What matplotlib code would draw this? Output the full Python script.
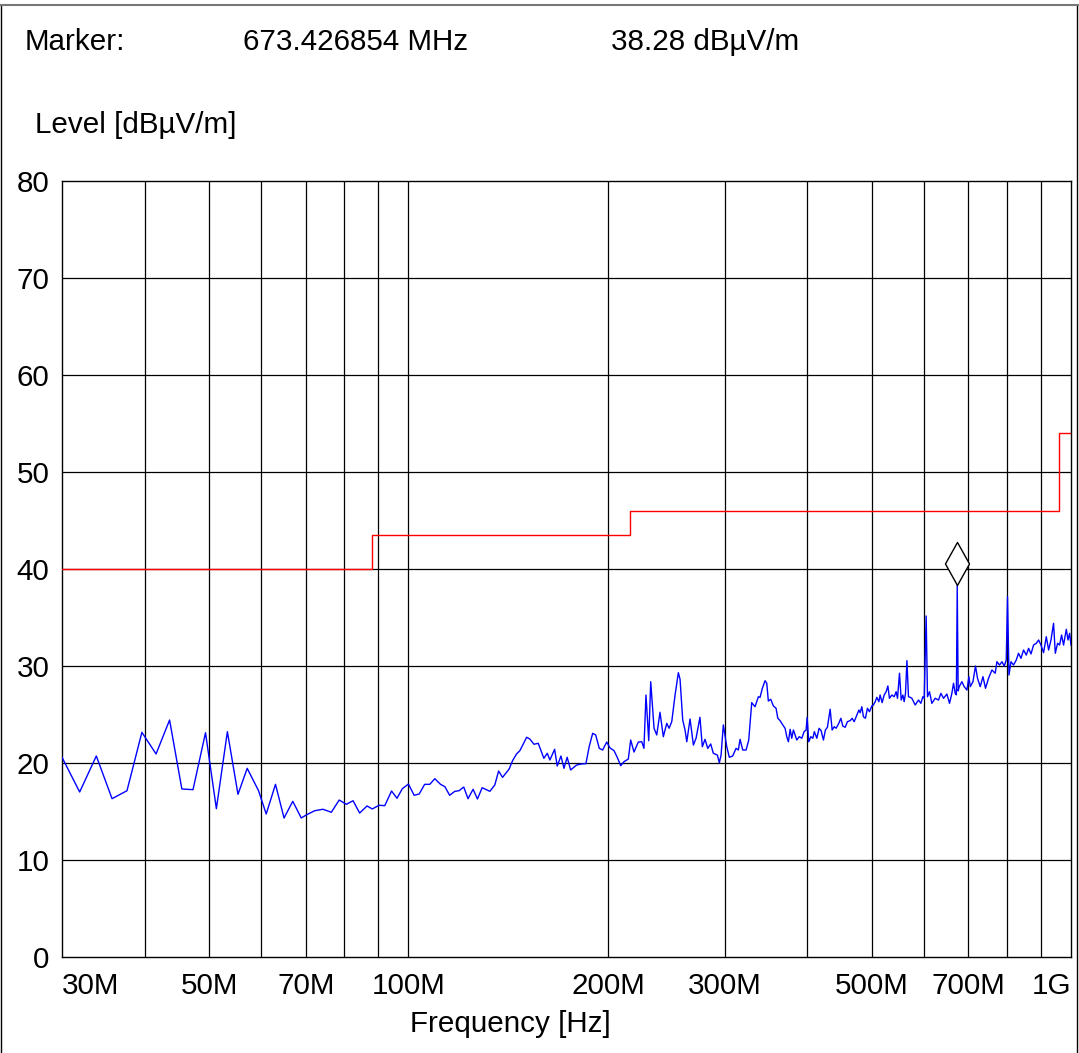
import matplotlib
matplotlib.use("Agg")
import matplotlib.pyplot as plt
from matplotlib.lines import Line2D
from matplotlib.path import Path
import numpy as np

# Measured field strength (MHz, dBuV/m)
freq_mhz = [
    30.0, 31.9, 33.8, 35.7, 37.6, 39.6, 41.6, 43.6, 45.5, 47.3,
    49.4, 51.3, 53.3, 55.3, 57.1, 59.4, 61.0, 63.0, 64.9, 66.9,
    68.9, 70.1, 72.2, 74.3, 76.5, 78.6, 80.6, 82.5, 84.4, 86.6,
    88.2, 90.3, 92.1, 94.3, 96.1, 97.9, 100.0, 102.0, 103.8, 105.8,
    107.7, 109.6, 111.8, 113.5, 115.4, 117.5, 119.2, 121.2, 123.0, 125.2,
    127.1, 129.2, 132.7, 135.0, 136.8, 138.7, 141.9, 143.6, 145.6, 147.3,
    150.8, 152.5, 154.7, 157.0, 160.1, 162.0, 163.5, 166.2, 167.7, 169.9,
    171.7, 173.6, 175.7, 179.4, 182.5, 185.3, 187.4, 189.7, 191.7, 194.1,
    196.4, 199.2, 201.5, 204.3, 206.6, 209.1, 211.5, 214.7, 216.5, 219.0,
    222.3, 225.0, 226.7, 228.3, 230.5, 232.1, 234.8, 237.0, 239.7, 242.5,
    245.4, 247.4, 249.7, 252.6, 255.5, 257.0, 259.4, 261.5, 263.1, 266.1,
    269.2, 271.7, 275.4, 277.7, 280.3, 283.0, 285.9, 288.5, 292.6, 294.6,
    296.4, 298.7, 302.3, 305.0, 308.6, 312.2, 314.7, 316.6, 319.6, 323.3,
    326.3, 329.7, 333.5, 337.4, 339.4, 342.1, 345.3, 347.4, 349.3, 352.2,
    355.5, 358.8, 361.0, 363.9, 367.3, 370.2, 372.4, 374.5, 376.8, 378.9,
    381.1, 383.3, 385.6, 389.0, 392.4, 395.5, 398.3, 399.7, 402.0, 404.9,
    407.7, 409.9, 413.4, 416.7, 419.6, 423.0, 425.9, 428.9, 433.0, 436.0,
    439.1, 442.1, 446.2, 449.4, 452.5, 456.2, 459.8, 464.1, 467.4, 470.7,
    475.1, 478.5, 480.6, 483.4, 486.1, 489.5, 492.9, 496.4, 500.6, 503.3,
    506.4, 509.3, 512.9, 515.1, 518.8, 522.4, 526.0, 529.2, 532.1, 536.6,
    540.9, 544.6, 547.2, 551.0, 554.3, 557.5, 560.0, 562.6, 565.4, 568.5,
    571.8, 575.2, 581.9, 588.6, 593.5, 597.6, 600.4, 604.5, 607.3, 611.5,
    616.6, 623.7, 631.0, 636.2, 642.1, 649.7, 655.6, 661.0, 664.8, 668.7,
    671.4, 673.43, 675.6, 678.1, 684.4, 689.9, 696.5, 701.3, 704.6, 711.2,
    717.6, 722.6, 729.5, 736.4, 743.0, 750.8, 759.8, 768.4, 773.0, 780.0,
    786.7, 793.0, 798.5, 802.0, 806.1, 811.7, 819.0, 826.8, 833.3, 840.4,
    848.0, 856.0, 863.0, 870.2, 878.0, 886.3, 893.5, 900.9, 909.1, 917.7,
    925.1, 932.8, 941.2, 946.9, 954.5, 961.1, 967.8, 974.5, 983.8, 989.7,
    995.2, 1000.0,
]
level_dbuv = [
    20.56, 16.98, 20.69, 16.29, 17.11, 23.13, 20.90, 24.40, 17.29, 17.22,
    23.09, 15.26, 23.20, 16.74, 19.42, 17.11, 14.71, 17.77, 14.30, 16.02,
    14.30, 14.61, 15.05, 15.20, 14.89, 16.15, 15.71, 16.08, 14.81, 15.54,
    15.23, 15.61, 15.57, 17.08, 16.33, 17.32, 17.80, 16.64, 16.77, 17.77,
    17.77, 18.35, 17.77, 17.53, 16.64, 17.05, 17.11, 17.49, 16.29, 17.26,
    16.26, 17.42, 17.05, 17.70, 19.14, 18.49, 19.35, 20.21, 20.90, 21.24,
    22.62, 22.44, 21.90, 22.00, 20.45, 20.97, 20.28, 21.38, 19.66, 20.69,
    19.42, 20.56, 19.25, 19.76, 19.87, 19.90, 21.65, 23.03, 22.86, 21.48,
    21.31, 22.13, 21.52, 21.24, 20.56, 19.69, 20.10, 20.38, 22.34, 21.10,
    22.13, 22.16, 21.48, 26.98, 22.27, 28.35, 23.55, 22.86, 25.20, 22.68,
    24.06, 23.55, 24.23, 26.98, 29.28, 28.60, 24.40, 23.37, 22.16, 24.51,
    21.82, 22.52, 24.68, 21.65, 22.41, 21.48, 21.93, 20.97, 20.79, 20.00,
    20.79, 23.89, 21.65, 20.56, 20.69, 21.48, 21.31, 22.41, 21.31, 21.31,
    22.34, 26.19, 25.77, 26.80, 26.74, 27.67, 28.45, 28.19, 26.36, 26.54,
    25.85, 25.61, 24.58, 24.33, 23.89, 23.55, 22.68, 22.16, 23.44, 22.52,
    23.37, 22.86, 22.34, 22.68, 22.52, 23.20, 23.37, 24.68, 22.16, 22.68,
    22.52, 23.20, 22.52, 23.55, 23.30, 22.34, 23.37, 23.65, 25.51, 23.37,
    23.71, 23.55, 24.06, 24.58, 23.78, 23.65, 24.23, 24.33, 24.58, 24.23,
    24.92, 25.43, 25.15, 25.77, 24.74, 24.58, 25.61, 25.26, 25.85, 25.95,
    26.29, 26.74, 26.29, 26.98, 26.19, 26.98, 27.32, 27.91, 26.64, 26.98,
    26.80, 27.32, 26.64, 29.22, 26.46, 26.98, 26.29, 27.15, 30.52, 26.80,
    26.74, 26.64, 25.95, 26.46, 26.12, 26.80, 26.64, 35.12, 26.80, 27.32,
    26.12, 26.64, 26.46, 27.15, 26.64, 27.08, 26.12, 27.15, 28.19, 27.15,
    27.00, 38.28, 27.40, 27.84, 28.35, 27.84, 27.49, 28.87, 27.84, 28.35,
    29.97, 28.70, 27.84, 28.87, 27.67, 28.70, 29.56, 29.22, 30.41, 30.07,
    30.41, 29.97, 30.59, 37.11, 29.04, 30.41, 30.07, 30.59, 31.28, 30.76,
    31.62, 31.10, 31.79, 31.21, 32.13, 32.31, 32.65, 32.13, 31.34, 32.99,
    31.62, 32.65, 34.37, 31.28, 32.31, 32.13, 33.16, 32.13, 33.75, 32.65,
    33.34, 32.13,
]

# Class B limit: band edges (MHz) and limit per band
limit_edges_mhz = [30, 88, 216, 960, 1000]
limit_dbuv = [40.0, 43.5, 46.0, 54.0]

marker_mhz = 673.426854
marker_dbuv = 38.28

grid_mhz = [40, 50, 60, 70, 80, 90, 100, 200, 300, 400, 500, 600, 700, 800, 900]
tick_mhz = [30, 50, 70, 100, 200, 300, 500, 700, 1000]
tick_labels = ["30M", "50M", "70M", "100M", "200M", "300M", "500M", "700M", "1G"]

plt.rcParams["font.family"] = ["Liberation Sans", "DejaVu Sans"]
FS = 21.3

W, H = 1079, 1053
fig = plt.figure(figsize=(W / 100, H / 100), dpi=100)
ax = fig.add_axes([62 / W, 1 - 956.7 / H, (1071 - 62) / W, (956.7 - 180.7) / H])

ax.set_xscale("log")
ax.set_xlim(30e6, 1e9)
ax.set_ylim(0, 80)

for g in grid_mhz:
    ax.axvline(g * 1e6, color="black", lw=0.9, zorder=1)
for lv in range(10, 80, 10):
    ax.axhline(lv, color="black", lw=0.9, zorder=1)

# limit line
edges = np.array(limit_edges_mhz) * 1e6
ax.step(edges, limit_dbuv + [limit_dbuv[-1]], where="post", color="#ff0000", lw=1.0, zorder=3)

# measured trace
ax.plot(np.array(freq_mhz) * 1e6, level_dbuv, color="#0000ff", lw=1.0, zorder=4)

# marker diamond sitting on top of the peak
diamond = Path([(0, 0), (-12, 21.5), (0, 43), (12, 21.5), (0, 0)],
               [Path.MOVETO, Path.LINETO, Path.LINETO, Path.LINETO, Path.CLOSEPOLY])
ax.plot([marker_mhz * 1e6], [marker_dbuv], marker=diamond, markersize=62,
        markerfacecolor="white", markeredgecolor="black", markeredgewidth=1.0,
        linestyle="none", zorder=5)

ax.set_yticks(range(0, 90, 10))
ax.set_yticklabels([str(v) for v in range(0, 90, 10)], fontsize=FS)
ax.set_xticks([t * 1e6 for t in tick_mhz])
ax.set_xticklabels(tick_labels, fontsize=FS)
ax.minorticks_off()
ax.tick_params(axis="both", length=0)
ax.tick_params(axis="y", pad=9)
ax.tick_params(axis="x", pad=11)
xl = ax.get_xticklabels()
xl[0].set_ha("left")
xl[-1].set_ha("right")

for sp in ax.spines.values():
    sp.set_color("black")
    sp.set_linewidth(1.0)

fig.text(25 / W, 1 - 50 / H, "Marker:", fontsize=FS, ha="left", va="baseline")
fig.text(243 / W, 1 - 50 / H, "673.426854 MHz", fontsize=FS, ha="left", va="baseline")
fig.text(611 / W, 1 - 50 / H, "38.28 dBµV/m", fontsize=FS, ha="left", va="baseline")
fig.text(35 / W, 1 - 133 / H, "Level [dBµV/m]", fontsize=FS, ha="left", va="baseline")
fig.text(510 / W, 1 - 1032 / H, "Frequency [Hz]", fontsize=FS, ha="center", va="baseline")

# outer frame
fig.add_artist(Line2D([1 / W, 1 / W], [0, 1 - 5 / H], color="black", lw=1.0, transform=fig.transFigure))
fig.add_artist(Line2D([1077 / W, 1077 / W], [0, 1 - 5 / H], color="black", lw=1.0, transform=fig.transFigure))
fig.add_artist(Line2D([0, 1], [1 - 5 / H, 1 - 5 / H], color="#777777", lw=1.5, transform=fig.transFigure))

fig.savefig("out.png", dpi=100)
